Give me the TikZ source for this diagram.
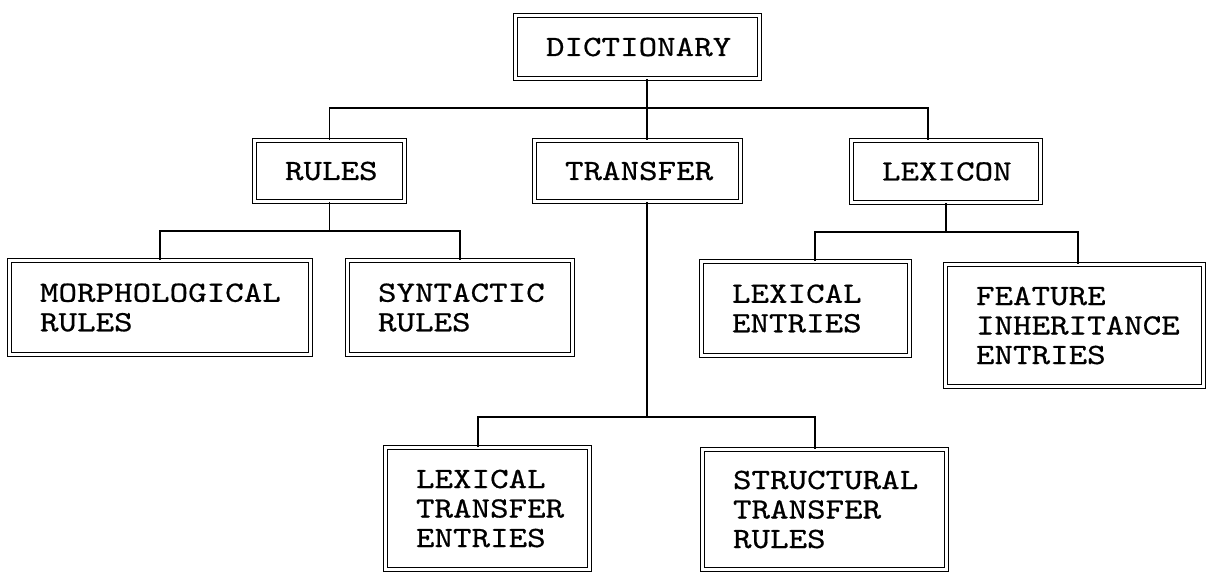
\documentclass[tikz,border=0pt]{standalone}
\usepackage{fontspec}
\newfontfamily\boxfont{lmmono10-regular.otf}[FakeStretch=1.2,FakeBold=0.6]
\hyphenpenalty=10000
\exhyphenpenalty=10000
\begin{document}
\begin{tikzpicture}[x=0.5pt,y=-0.5pt,
  bx/.style n args={3}{draw, double, line width=0.65pt, double distance=1.4pt,
    minimum width=#1, minimum height=#2, text width=#3, inner xsep=0pt, inner ysep=0pt,
    align=left, font=\boxfont\fontsize{14.7pt}{14.75pt}\selectfont},
  link/.style={line width=0.8pt}]
\useasboundingbox (0,0) rectangle (1208,573);

\node[bx={121.8pt}{31.3pt}{91.5pt}] (dict) at (637.5,47) {DICTIONARY};
\node[bx={74.8pt}{30.3pt}{44.5pt}] (rules) at (329.5,171) {RULES};
\node[bx={102.8pt}{30.3pt}{72.5pt}] (transfer) at (637.5,171) {TRANSFER};
\node[bx={94.3pt}{30.8pt}{64pt}] (lexicon) at (946,171.5) {LEXICON};
\node[bx={150.3pt}{46.8pt}{120pt}] (morph) at (160,307.5) {MORPHOLOGICAL\\RULES};
\node[bx={112.3pt}{46.8pt}{82pt}] (synt) at (460,307.5) {SYNTACTIC\\RULES};
\node[bx={103.8pt}{46.8pt}{73.5pt}] (lexent) at (805.5,308.5) {LEXICAL\\ENTRIES};
\node[bx={128.8pt}{60.8pt}{98.5pt}] (feat) at (1074.5,325.5) {FEATURE\\INHERITANCE\\ENTRIES};
\node[bx={101.8pt}{60.8pt}{71.5pt}] (lextr) at (487.5,508.5) {LEXICAL\\TRANSFER\\ENTRIES};
\node[bx={121.8pt}{59.8pt}{91.5pt}] (struct) at (824.5,509.5) {STRUCTURAL\\TRANSFER\\RULES};

% level 1
\coordinate (b1) at (647,108);
\draw[link] ([xshift=4.75pt]dict.south) -- ([xshift=4.75pt]transfer.north);
\draw[link] (rules.north) |- (b1) -| ([xshift=-9pt]lexicon.north);

% rules
\coordinate (b2) at (329.5,231);
\draw[link] (rules.south) -- (b2);
\draw[link] (morph.north) |- (b2) -| (synt.north);

% lexicon
\coordinate (b3) at (946,232);
\draw[link] (lexicon.south) -- (b3);
\draw[link] ([xshift=4.75pt]lexent.north) |- (b3) -| ([xshift=1.75pt]feat.north);

% transfer
\coordinate (b4) at (647,417);
\draw[link] ([xshift=4.75pt]transfer.south) -- (b4);
\draw[link] ([xshift=-4.75pt]lextr.north) |- (b4) -| ([xshift=-4.75pt]struct.north);
\end{tikzpicture}
\end{document}
